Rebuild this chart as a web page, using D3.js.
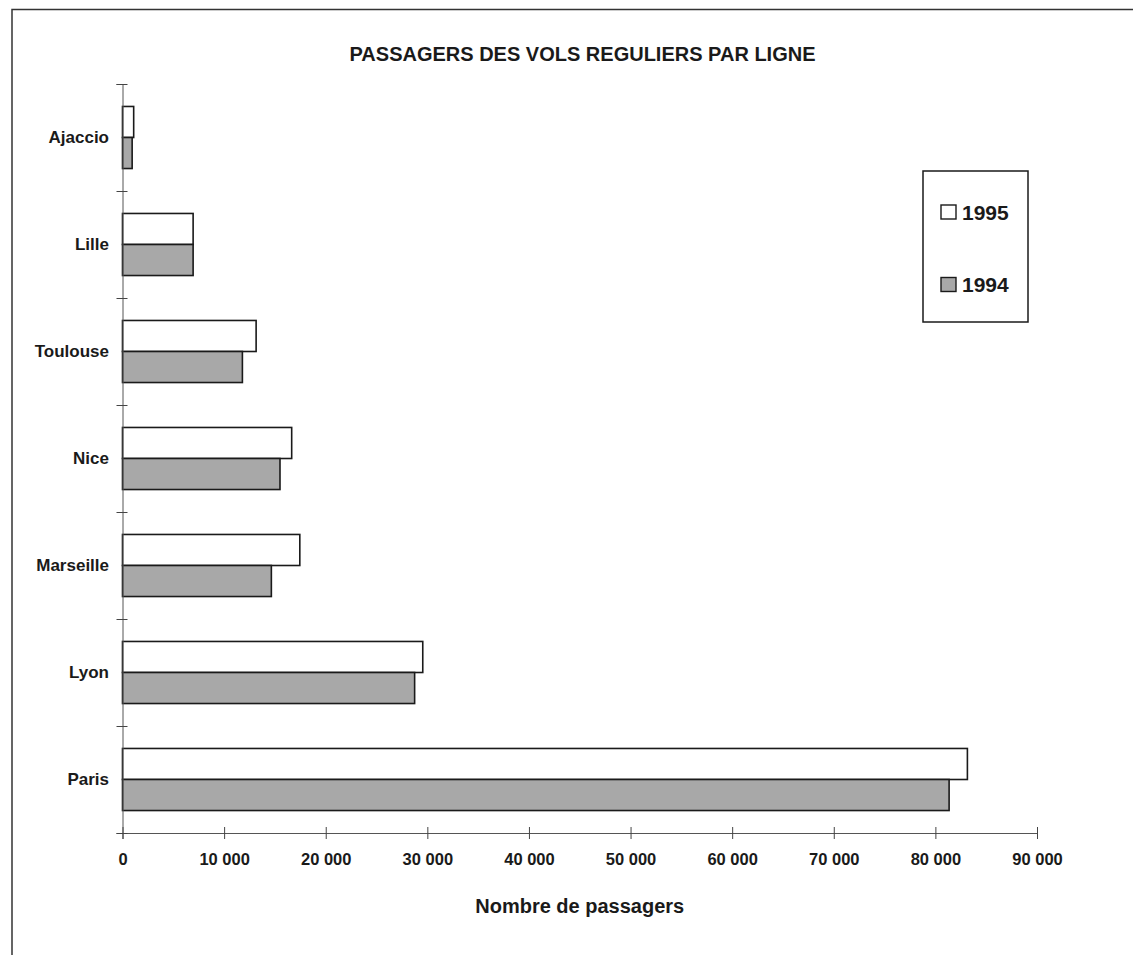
<!DOCTYPE html>
<html>
<head>
<meta charset="utf-8">
<script src="https://cdn.jsdelivr.net/npm/d3@7"></script>
<style>
  html, body { margin: 0; padding: 0; background: #fff; }
  svg { display: block; }
  text { font-family: "Liberation Sans", Arial, Helvetica, sans-serif; font-weight: bold; fill: #1a1a1a; }
</style>
</head>
<body>
<svg id="chart" width="1133" height="955"></svg>
<script>
const title = "PASSAGERS DES VOLS REGULIERS PAR LIGNE";
const xAxisTitle = "Nombre de passagers";
const categories = ["Ajaccio", "Lille", "Toulouse", "Nice", "Marseille", "Lyon", "Paris"];
const series = ["1995", "1994"];
const values1995 = [1100, 6950, 13150, 16650, 17450, 29550, 83150];
const values1994 = [950, 6950, 11800, 15500, 14650, 28750, 81350];
const xTicks = [0, 10000, 20000, 30000, 40000, 50000, 60000, 70000, 80000, 90000];
const xTickLabels = ["0", "10 000", "20 000", "30 000", "40 000", "50 000", "60 000", "70 000", "80 000", "90 000"];
const seriesFill = ["#ffffff", "#a8a8a8"];

const svg = d3.select("#chart");
const ink = "#1a1a1a";

// frame (extends past right/bottom edges as in the scan)
svg.append("rect")
  .attr("x", 12).attr("y", 9.5)
  .attr("width", 1140).attr("height", 960)
  .attr("fill", "none").attr("stroke", "#333").attr("stroke-width", 1.5);

const x = d3.scaleLinear().domain([0, 90000]).range([122.5, 1037]);
const y = d3.scaleBand().domain(categories).range([84, 833]).paddingInner(0.42).paddingOuter(0.21);
const ySub = d3.scaleBand().domain(series).range([0, y.bandwidth()]);
const yBound = d3.scaleLinear().domain([0, categories.length]).range([84, 833]);

// title
svg.append("text")
  .attr("x", 582.5).attr("y", 61)
  .attr("text-anchor", "middle")
  .style("font-size", "20px")
  .text(title);

// bars
const data = categories.map((c, i) => ({ cat: c, vals: [values1995[i], values1994[i]] }));
const groups = svg.append("g").selectAll("g").data(data).join("g")
  .attr("transform", d => `translate(0,${y(d.cat)})`);
groups.selectAll("rect").data(d => d.vals.map((v, j) => ({ s: series[j], v, j })))
  .join("rect")
  .attr("x", x(0))
  .attr("y", d => ySub(d.s))
  .attr("width", d => x(d.v) - x(0))
  .attr("height", ySub.bandwidth())
  .attr("fill", d => seriesFill[d.j])
  .attr("stroke", ink)
  .attr("stroke-width", 1.6);

// x axis
const xAxis = svg.append("g")
  .attr("transform", `translate(0,${yBound(categories.length)})`)
  .call(d3.axisBottom(x).tickValues(xTicks).tickFormat((d, i) => xTickLabels[i]).tickSizeOuter(0).tickSize(6).tickPadding(14));
xAxis.select(".domain").attr("stroke", "#555").attr("stroke-width", 1);
xAxis.selectAll(".tick line").attr("y1", -6).attr("y2", 6).attr("stroke", "#444");
xAxis.selectAll(".tick text").style("font-size", "16.5px").attr("fill", ink).attr("dy", "0.71em");

// y axis (ticks at category boundaries)
const yAxis = svg.append("g")
  .attr("transform", `translate(${x(0)},0)`)
  .call(d3.axisLeft(yBound).tickValues(d3.range(categories.length + 1)).tickFormat("").tickSizeOuter(0).tickSize(6));
yAxis.select(".domain").attr("stroke", "#555").attr("stroke-width", 1);
yAxis.selectAll(".tick line").attr("x1", -6).attr("x2", 5).attr("stroke", "#444");

// category labels
svg.append("g").selectAll("text").data(categories).join("text")
  .attr("x", 109)
  .attr("y", d => y(d) + y.bandwidth() / 2)
  .attr("dy", "0.35em")
  .attr("text-anchor", "end")
  .style("font-size", "17px")
  .text(d => d);

// x axis title
svg.append("text")
  .attr("x", (x(0) + x(90000)) / 2).attr("y", 912.5)
  .attr("text-anchor", "middle")
  .style("font-size", "20px")
  .text(xAxisTitle);

// legend
const lg = svg.append("g");
lg.append("rect")
  .attr("x", 923).attr("y", 171).attr("width", 105).attr("height", 151)
  .attr("fill", "#fff").attr("stroke", ink).attr("stroke-width", 1.5);
const legendY = [212, 284.5];
series.forEach((s, i) => {
  lg.append("rect")
    .attr("x", 941).attr("y", legendY[i] - 7).attr("width", 15).attr("height", 14)
    .attr("fill", seriesFill[i]).attr("stroke", ink).attr("stroke-width", 1.4);
  lg.append("text")
    .attr("x", 962).attr("y", legendY[i]).attr("dy", "0.36em")
    .style("font-size", "21px")
    .text(s);
});
</script>
</body>
</html>
